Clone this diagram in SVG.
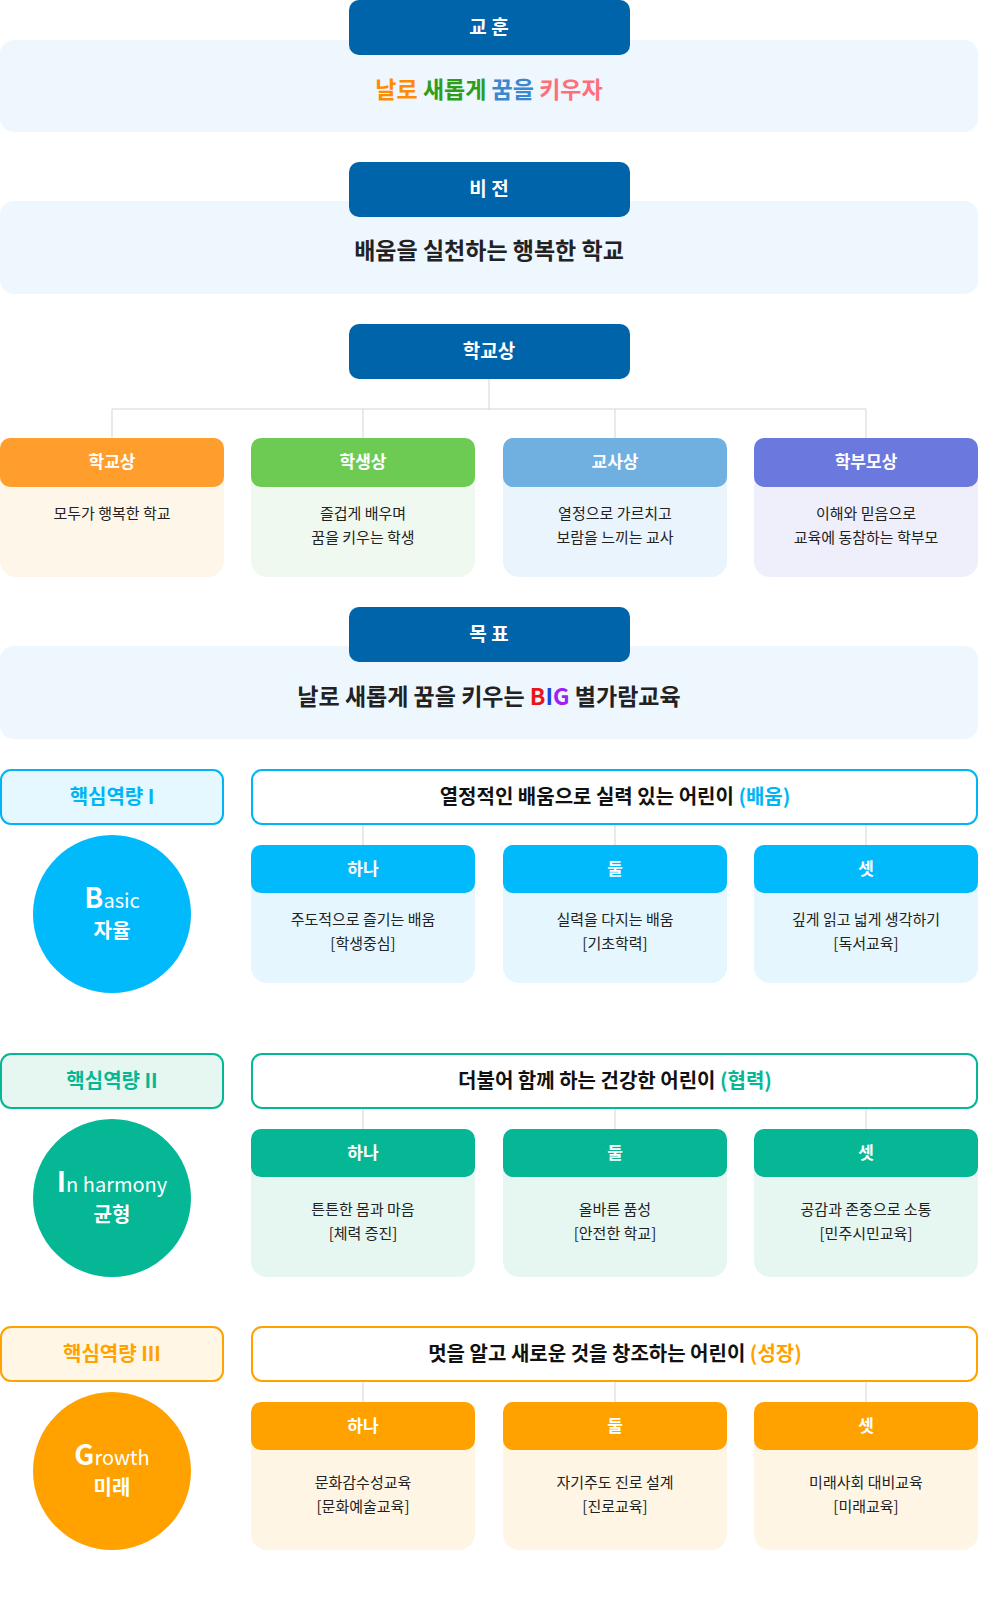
<svg xmlns="http://www.w3.org/2000/svg" width="998" height="1598" viewBox="0 0 998 1598">
<style>
text{font-family:"Noto Sans CJK KR","Noto Sans",sans-serif;text-anchor:middle}
.hd{fill:#0064ab}
.ht{fill:#fff;font-size:19px;font-weight:bold}
.pn{fill:#eef6fe}
.pt{font-size:23px;font-weight:bold;fill:#222}
.ct{fill:#fff;font-size:17px;font-weight:bold}
.bt{font-size:15px;fill:#222}
.tt{font-size:20px;font-weight:bold;fill:#111}
.lt{font-size:20px;font-weight:bold}
.ln{stroke:#d5d5d5;stroke-width:1;fill:none}
.cw{fill:#fff;font-weight:bold}
</style>
<g id="connectors">
<path class="ln" d="M489 379V409M112 409H866M112 409V438M363 409V438M615 409V438M866 409V438"/>
<path class="ln" d="M363 824V845M615 824V845M866 824V845"/>
<path class="ln" d="M363 1108V1129M615 1108V1129M866 1108V1129"/>
<path class="ln" d="M363 1381V1402M615 1381V1402M866 1381V1402"/>
</g>
<g id="motto">
<rect class="pn" x="0" y="40" width="978" height="92" rx="14"/>
<rect class="hd" x="349" y="0" width="281" height="55" rx="10"/>
<text class="ht" x="489" y="34">교 훈</text>
<text class="pt" x="489" y="98"><tspan fill="#ff8c00">날로</tspan> <tspan fill="#2e9e1a">새롭게</tspan> <tspan fill="#3b87d0">꿈을</tspan> <tspan fill="#ff6f7a">키우자</tspan></text>
</g>
<g id="vision">
<rect class="pn" x="0" y="201" width="978" height="93" rx="14"/>
<rect class="hd" x="349" y="162" width="281" height="55" rx="10"/>
<text class="ht" x="489" y="196">비 전</text>
<text class="pt" x="489" y="259">배움을 실천하는 행복한 학교</text>
</g>
<g id="school-image">
<rect class="hd" x="349" y="324" width="281" height="55" rx="10"/>
<text class="ht" x="489" y="358">학교상</text>
</g>
<g id="card-school">
<rect x="0" y="438" width="224" height="139" rx="16" fill="#fff6ea"/>
<rect x="0" y="438" width="224" height="49" rx="10" fill="#ff9e2c"/>
<text class="ct" x="112" y="468">학교상</text>
<text class="bt" x="112" y="519">모두가 행복한 학교</text>
</g>
<g id="card-student">
<rect x="251" y="438" width="224" height="139" rx="16" fill="#f0f9ef"/>
<rect x="251" y="438" width="224" height="49" rx="10" fill="#6dcb54"/>
<text class="ct" x="363" y="468">학생상</text>
<text class="bt" x="363" y="519">즐겁게 배우며</text>
<text class="bt" x="363" y="543">꿈을 키우는 학생</text>
</g>
<g id="card-teacher">
<rect x="503" y="438" width="224" height="139" rx="16" fill="#eaf4fc"/>
<rect x="503" y="438" width="224" height="49" rx="10" fill="#6fb0e0"/>
<text class="ct" x="615" y="468">교사상</text>
<text class="bt" x="615" y="519">열정으로 가르치고</text>
<text class="bt" x="615" y="543">보람을 느끼는 교사</text>
</g>
<g id="card-parent">
<rect x="754" y="438" width="224" height="139" rx="16" fill="#efeffb"/>
<rect x="754" y="438" width="224" height="49" rx="10" fill="#6b78de"/>
<text class="ct" x="866" y="468">학부모상</text>
<text class="bt" x="866" y="519">이해와 믿음으로</text>
<text class="bt" x="866" y="543">교육에 동참하는 학부모</text>
</g>
<g id="goal">
<rect class="pn" x="0" y="646" width="978" height="93" rx="14"/>
<rect class="hd" x="349" y="607" width="281" height="55" rx="10"/>
<text class="ht" x="489" y="641">목 표</text>
<text class="pt" x="489" y="705">날로 새롭게 꿈을 키우는 <tspan fill="#e8151b">B</tspan><tspan fill="#2147d8">I</tspan><tspan fill="#a020f0">G</tspan> 별가람교육</text>
</g>
<g id="comp1">
<rect x="1" y="770" width="222" height="54" rx="10" fill="#e5f8ff" stroke="#00b5f5" stroke-width="2"/>
<text class="lt" x="112" y="804" fill="#00b5f5">핵심역량 I</text>
<rect x="252" y="770" width="725" height="54" rx="10" fill="#fff" stroke="#00b5f5" stroke-width="2"/>
<text class="tt" x="615" y="804">열정적인 배움으로 실력 있는 어린이 <tspan fill="#00b5f5">(배움)</tspan></text>
<circle cx="112" cy="914" r="79" fill="#00bafc"/>
<text class="cw" x="112" y="908"><tspan font-size="28">B</tspan><tspan font-size="20" font-weight="normal">asic</tspan></text>
<text class="cw" x="112" y="938" font-size="20">자율</text>
</g>
<g id="comp1-1">
<rect x="251" y="845" width="224" height="138" rx="16" fill="#e5f6fe"/>
<rect x="251" y="845" width="224" height="48" rx="10" fill="#00bafc"/>
<text class="ct" x="363" y="875">하나</text>
<text class="bt" x="363" y="925">주도적으로 즐기는 배움</text>
<text class="bt" x="363" y="949">[학생중심]</text>
</g>
<g id="comp1-2">
<rect x="503" y="845" width="224" height="138" rx="16" fill="#e5f6fe"/>
<rect x="503" y="845" width="224" height="48" rx="10" fill="#00bafc"/>
<text class="ct" x="615" y="875">둘</text>
<text class="bt" x="615" y="925">실력을 다지는 배움</text>
<text class="bt" x="615" y="949">[기초학력]</text>
</g>
<g id="comp1-3">
<rect x="754" y="845" width="224" height="138" rx="16" fill="#e5f6fe"/>
<rect x="754" y="845" width="224" height="48" rx="10" fill="#00bafc"/>
<text class="ct" x="866" y="875">셋</text>
<text class="bt" x="866" y="925">깊게 읽고 넓게 생각하기</text>
<text class="bt" x="866" y="949">[독서교육]</text>
</g>
<g id="comp2">
<rect x="1" y="1054" width="222" height="54" rx="10" fill="#e6f7f2" stroke="#05b795" stroke-width="2"/>
<text class="lt" x="112" y="1088" fill="#05b795">핵심역량 II</text>
<rect x="252" y="1054" width="725" height="54" rx="10" fill="#fff" stroke="#05b795" stroke-width="2"/>
<text class="tt" x="615" y="1088">더불어 함께 하는 건강한 어린이 <tspan fill="#05b795">(협력)</tspan></text>
<circle cx="112" cy="1198" r="79" fill="#05b795"/>
<text class="cw" x="112" y="1192"><tspan font-size="28">I</tspan><tspan font-size="20" font-weight="normal">n harmony</tspan></text>
<text class="cw" x="112" y="1222" font-size="20">균형</text>
</g>
<g id="comp2-1">
<rect x="251" y="1129" width="224" height="148" rx="16" fill="#e6f6f1"/>
<rect x="251" y="1129" width="224" height="48" rx="10" fill="#05b795"/>
<text class="ct" x="363" y="1159">하나</text>
<text class="bt" x="363" y="1215">튼튼한 몸과 마음</text>
<text class="bt" x="363" y="1239">[체력 증진]</text>
</g>
<g id="comp2-2">
<rect x="503" y="1129" width="224" height="148" rx="16" fill="#e6f6f1"/>
<rect x="503" y="1129" width="224" height="48" rx="10" fill="#05b795"/>
<text class="ct" x="615" y="1159">둘</text>
<text class="bt" x="615" y="1215">올바른 품성</text>
<text class="bt" x="615" y="1239">[안전한 학교]</text>
</g>
<g id="comp2-3">
<rect x="754" y="1129" width="224" height="148" rx="16" fill="#e6f6f1"/>
<rect x="754" y="1129" width="224" height="48" rx="10" fill="#05b795"/>
<text class="ct" x="866" y="1159">셋</text>
<text class="bt" x="866" y="1215">공감과 존중으로 소통</text>
<text class="bt" x="866" y="1239">[민주시민교육]</text>
</g>
<g id="comp3">
<rect x="1" y="1327" width="222" height="54" rx="10" fill="#fff6e6" stroke="#ffa200" stroke-width="2"/>
<text class="lt" x="112" y="1361" fill="#ffa200">핵심역량 III</text>
<rect x="252" y="1327" width="725" height="54" rx="10" fill="#fff" stroke="#ffa200" stroke-width="2"/>
<text class="tt" x="615" y="1361">멋을 알고 새로운 것을 창조하는 어린이 <tspan fill="#ffa200">(성장)</tspan></text>
<circle cx="112" cy="1471" r="79" fill="#ffa200"/>
<text class="cw" x="112" y="1465"><tspan font-size="28">G</tspan><tspan font-size="20" font-weight="normal">rowth</tspan></text>
<text class="cw" x="112" y="1495" font-size="20">미래</text>
</g>
<g id="comp3-1">
<rect x="251" y="1402" width="224" height="148" rx="16" fill="#fff5e5"/>
<rect x="251" y="1402" width="224" height="48" rx="10" fill="#ffa200"/>
<text class="ct" x="363" y="1432">하나</text>
<text class="bt" x="363" y="1488">문화감수성교육</text>
<text class="bt" x="363" y="1512">[문화예술교육]</text>
</g>
<g id="comp3-2">
<rect x="503" y="1402" width="224" height="148" rx="16" fill="#fff5e5"/>
<rect x="503" y="1402" width="224" height="48" rx="10" fill="#ffa200"/>
<text class="ct" x="615" y="1432">둘</text>
<text class="bt" x="615" y="1488">자기주도 진로 설계</text>
<text class="bt" x="615" y="1512">[진로교육]</text>
</g>
<g id="comp3-3">
<rect x="754" y="1402" width="224" height="148" rx="16" fill="#fff5e5"/>
<rect x="754" y="1402" width="224" height="48" rx="10" fill="#ffa200"/>
<text class="ct" x="866" y="1432">셋</text>
<text class="bt" x="866" y="1488">미래사회 대비교육</text>
<text class="bt" x="866" y="1512">[미래교육]</text>
</g>
</svg>
